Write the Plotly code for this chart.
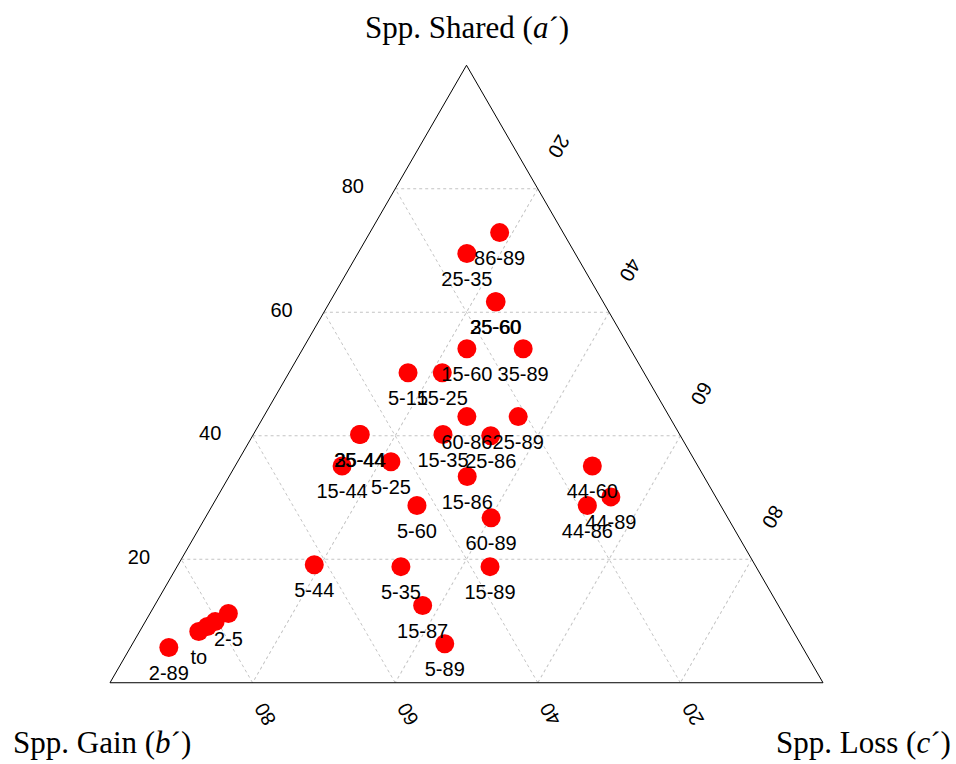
import plotly.graph_objects as go

# Data (percent of species)
labels = ["86-89", "25-35", "25-60", "35-60", "15-60", "35-89", "5-15", "15-25",
          "60-86", "25-89", "15-35", "25-86", "25-44", "35-44", "15-44", "5-25",
          "15-86", "5-60", "60-89", "44-60", "44-89", "44-86", "5-44", "5-35",
          "15-89", "15-87", "5-89", "2-89", "to", "", "", "2-5"]
shared = [72.9, 69.5, 61.7, 61.7, 54.1, 54.1, 50.2, 50.2,
          43.1, 43.1, 40.2, 40.0, 40.2, 40.2, 35.1, 35.8,
          33.4, 28.7, 26.7, 35.1, 30.1, 28.7, 19.1, 18.8,
          18.8, 12.5, 6.3, 5.7, 8.3, 9.1, 9.9, 11.2]
gain = [8.9, 15.2, 15.1, 15.0, 22.9, 15.0, 33.1, 28.3,
        28.4, 21.2, 33.2, 26.6, 44.9, 44.8, 49.9, 42.7,
        33.2, 42.6, 33.2, 14.8, 14.7, 18.7, 61.8, 49.8,
        37.3, 49.9, 49.9, 88.9, 83.4, 81.8, 80.3, 77.8]
loss = [18.2, 15.3, 23.2, 23.3, 23.0, 30.9, 16.7, 21.5,
        28.5, 35.7, 26.6, 33.4, 14.9, 15.0, 15.0, 21.5,
        33.4, 28.7, 40.1, 50.1, 55.2, 52.6, 19.1, 31.4,
        43.9, 37.6, 43.8, 5.4, 8.3, 9.1, 9.8, 11.0]
tick_vals = [20, 40, 60, 80]
tick_text = ["20", "40", "60", "80"]

sans = "Liberation Sans, Arial, sans-serif"
serif = "Liberation Serif, Times New Roman, serif"

fig = go.Figure()
fig.add_trace(go.Scatterternary(
    a=shared, b=gain, c=loss, mode="markers",
    marker=dict(color="#ff0000", size=19, line=dict(width=0)),
    hoverinfo="skip", cliponaxis=False, showlegend=False))
fig.add_trace(go.Scatterternary(
    a=shared, b=gain, c=loss, mode="markers+text", text=labels,
    textposition="bottom center",
    textfont=dict(family=sans, size=20, color="black"),
    marker=dict(color="rgba(0,0,0,0)", size=26),
    hoverinfo="skip", cliponaxis=False, showlegend=False))

axis_common = dict(
    tickmode="array", tickvals=tick_vals, ticktext=tick_text,
    ticks="outside", tickcolor="rgba(0,0,0,0)",
    tickfont=dict(family=sans, size=20, color="black"),
    showgrid=True, gridcolor="#c4c4c4", gridwidth=1, griddash="dot",
    showline=True, linecolor="black", linewidth=1, min=0,
    title=dict(text=""),
)

title_font = dict(family=serif, size=31, color="black")

fig.update_layout(
    width=956, height=764,
    margin=dict(l=110, r=133, t=65, b=81),
    paper_bgcolor="white",
    ternary=dict(
        sum=100, bgcolor="white",
        aaxis=dict(axis_common, ticklen=28, tickangle=0),
        baxis=dict(axis_common, ticklen=9, tickangle=-120),
        caxis=dict(axis_common, ticklen=52, tickangle=120),
    ),
    annotations=[
        dict(text="Spp. Shared (<i>a</i>´)", x=0.5, y=1.0607, xref="paper", yref="paper",
             showarrow=False, font=title_font, xanchor="center", yanchor="middle"),
        dict(text="Spp. Gain (<i>b</i>´)", x=-0.0116, y=-0.0966, xref="paper", yref="paper",
             showarrow=False, font=title_font, xanchor="center", yanchor="middle"),
        dict(text="Spp. Loss (<i>c</i>´)", x=1.0575, y=-0.0966, xref="paper", yref="paper",
             showarrow=False, font=title_font, xanchor="center", yanchor="middle"),
    ],
)

fig.write_html("out.html")
